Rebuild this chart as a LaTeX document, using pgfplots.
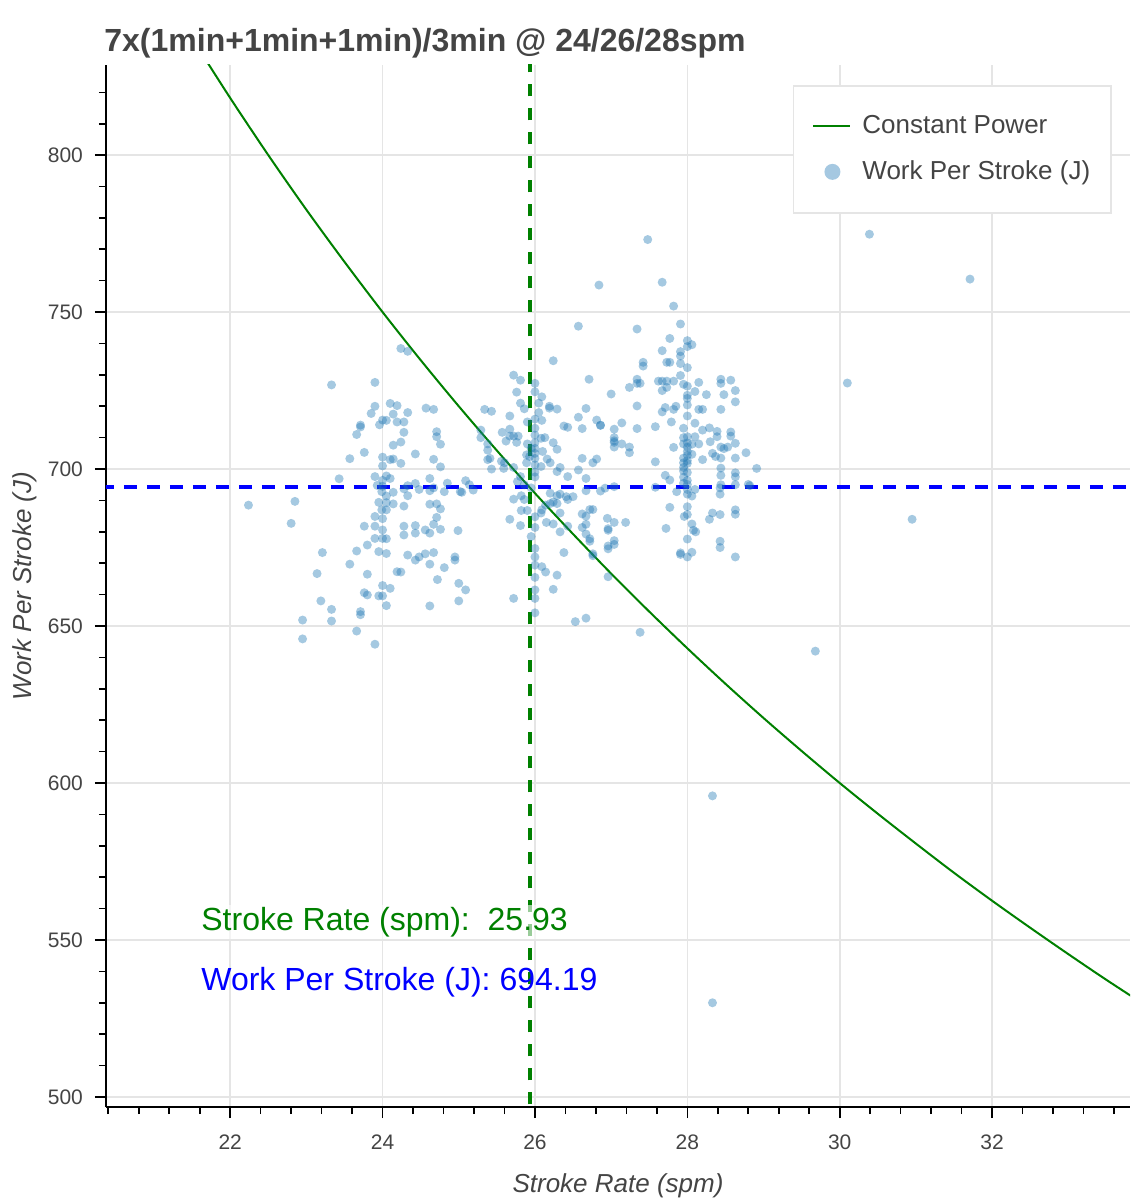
\documentclass[border=0pt]{standalone}
\usepackage{fontspec}
\setmainfont{Liberation Sans}
\usepackage{pgfplots}
\pgfplotsset{compat=1.18}
\usepackage{pgfplotstable}
\definecolor{tickgray}{HTML}{444444}
\definecolor{gridgray}{HTML}{E5E5E5}
\definecolor{ptblue}{HTML}{1F77B4}
\definecolor{cpgreen}{RGB}{0,128,0}
\definecolor{wblue}{RGB}{0,0,255}

\pgfplotstableread{
x y
22.24 688.5
22.85 689.7
22.80 682.7
22.95 651.9
22.95 645.9
23.14 666.7
23.21 673.4
23.19 658.0
23.33 655.3
23.33 651.6
23.33 726.8
23.43 696.9
23.57 703.3
23.57 669.7
23.66 711.0
23.66 673.9
23.66 648.4
23.71 714.0
23.71 713.4
23.71 654.6
23.71 653.6
23.76 705.3
23.76 681.8
23.76 660.6
23.80 675.8
23.80 666.5
23.80 659.9
23.85 717.7
23.90 727.6
23.90 720.0
23.90 697.6
23.90 684.9
23.90 681.8
23.90 677.9
23.90 644.2
23.93 694.8
23.95 689.4
23.95 673.7
23.95 659.6
23.96 714.1
23.99 692.8
23.99 687.0
24.00 715.6
24.00 703.8
24.00 701.0
24.00 696.4
24.00 694.5
24.00 684.2
24.00 680.6
24.00 677.9
24.00 662.9
24.00 659.6
24.05 715.5
24.05 697.8
24.05 691.4
24.05 689.3
24.05 687.0
24.05 677.8
24.05 673.1
24.05 656.5
24.10 720.9
24.10 703.0
24.10 697.0
24.10 662.0
24.14 717.5
24.14 707.6
24.14 703.2
24.14 692.6
24.14 688.9
24.19 720.2
24.19 715.0
24.19 667.3
24.24 738.4
24.24 708.6
24.24 701.8
24.24 667.2
24.28 715.0
24.28 711.7
24.28 693.7
24.28 688.2
24.28 681.8
24.28 679.0
24.33 737.5
24.33 718.0
24.33 694.7
24.33 691.5
24.33 672.6
24.43 704.8
24.43 695.4
24.43 682.0
24.43 679.6
24.43 671.0
24.48 693.5
24.48 672.0
24.56 680.6
24.56 673.0
24.57 719.4
24.62 697.0
24.62 693.1
24.62 688.8
24.62 679.6
24.62 669.7
24.62 656.4
24.67 719.0
24.67 703.1
24.67 694.0
24.67 682.4
24.67 673.4
24.71 711.9
24.71 710.3
24.71 688.9
24.71 684.6
24.72 664.8
24.76 707.9
24.76 700.7
24.76 687.3
24.76 680.8
24.81 692.8
24.81 668.6
24.85 695.5
24.95 672.0
24.95 671.0
24.99 680.4
25.00 663.6
25.00 658.0
25.02 692.8
25.04 692.6
25.09 696.3
25.09 661.5
25.14 695.0
25.19 693.3
25.29 712.4
25.29 710.0
25.34 719.0
25.38 708.0
25.38 706.0
25.38 703.0
25.41 703.4
25.43 718.4
25.43 700.0
25.56 702.5
25.57 711.7
25.59 700.2
25.60 702.0
25.62 708.9
25.67 716.9
25.67 712.7
25.67 710.5
25.67 684.0
25.72 729.9
25.72 710.5
25.72 700.5
25.72 690.4
25.72 658.8
25.76 724.5
25.76 708.5
25.77 696.0
25.78 710.5
25.81 728.3
25.81 721.0
25.81 697.6
25.81 682.0
25.82 691.5
25.82 686.8
25.86 719.2
25.86 695.0
25.86 690.3
25.89 704.5
25.89 702.0
25.90 715.0
25.90 708.0
25.90 686.8
25.93 704.0
25.95 706.5
25.95 694.0
25.95 678.5
26.00 727.3
26.00 724.6
26.00 715.9
26.00 713.0
26.00 710.8
26.00 708.4
26.00 706.6
26.00 705.0
26.00 703.4
26.00 701.3
26.00 699.0
26.00 697.5
26.00 684.8
26.00 681.4
26.00 674.7
26.00 672.0
26.00 669.4
26.00 665.5
26.00 661.5
26.00 658.8
26.00 654.2
26.05 721.0
26.05 718.0
26.08 709.8
26.08 700.8
26.08 686.0
26.09 723.0
26.09 715.5
26.09 687.0
26.09 668.9
26.10 705.6
26.13 710.0
26.14 688.5
26.14 667.2
26.15 683.0
26.16 703.2
26.19 720.0
26.19 719.4
26.20 702.0
26.20 692.3
26.20 689.0
26.24 734.5
26.24 708.4
26.24 689.5
26.24 682.5
26.24 661.7
26.29 719.1
26.29 706.3
26.29 699.2
26.29 691.5
26.29 689.0
26.29 666.2
26.33 700.5
26.33 692.0
26.33 686.0
26.33 680.0
26.38 713.7
26.38 673.4
26.41 691.2
26.43 713.3
26.43 697.6
26.43 690.3
26.43 681.8
26.50 691.2
26.53 651.4
26.57 745.5
26.57 716.5
26.57 699.7
26.62 712.9
26.62 703.4
26.62 685.7
26.62 681.4
26.67 719.3
26.67 697.0
26.67 693.1
26.67 685.0
26.67 682.4
26.67 679.3
26.67 652.5
26.71 728.6
26.72 687.1
26.72 677.8
26.72 677.0
26.76 702.0
26.76 687.1
26.76 673.0
26.76 672.4
26.81 715.6
26.81 703.2
26.84 758.6
26.86 714.0
26.86 713.9
26.86 693.0
26.92 693.9
26.95 684.3
26.96 681.0
26.96 680.5
26.96 675.5
26.96 674.6
26.96 665.7
27.00 723.9
27.04 712.7
27.04 710.0
27.04 709.0
27.04 708.5
27.04 707.0
27.04 694.4
27.04 683.0
27.04 677.2
27.04 676.0
27.14 714.7
27.14 708.0
27.19 683.0
27.24 726.0
27.24 707.0
27.24 705.2
27.34 744.6
27.34 728.6
27.34 727.3
27.34 720.1
27.34 712.9
27.38 727.3
27.38 648.0
27.42 734.0
27.42 732.8
27.48 773.1
27.58 713.5
27.58 702.3
27.58 694.2
27.62 728.0
27.67 759.5
27.67 737.7
27.67 728.0
27.67 725.0
27.67 718.2
27.71 719.6
27.71 698.0
27.72 681.1
27.73 734.0
27.73 726.0
27.73 728.0
27.77 741.6
27.77 734.0
27.77 696.5
27.77 687.8
27.79 715.0
27.82 751.9
27.82 728.0
27.82 719.0
27.82 706.9
27.85 720.0
27.86 692.8
27.91 746.2
27.91 737.4
27.91 736.0
27.91 733.6
27.91 729.8
27.91 673.3
27.91 672.8
27.95 727.0
27.95 713.0
27.95 710.0
27.95 708.0
27.95 703.5
27.95 702.0
27.95 700.5
27.95 699.4
27.95 697.4
27.95 695.5
27.96 684.9
28.00 740.9
28.00 739.0
28.00 732.3
28.00 726.4
28.00 723.5
28.00 722.5
28.00 720.4
28.00 716.9
28.00 710.3
28.00 708.3
28.00 707.0
28.00 705.6
28.00 704.4
28.00 702.7
28.00 701.8
28.00 698.9
28.00 696.4
28.00 695.1
28.00 693.5
28.00 692.0
28.00 688.0
28.00 685.5
28.00 677.7
28.00 672.0
28.06 739.6
28.06 707.9
28.06 704.7
28.06 691.4
28.06 682.5
28.06 673.5
28.08 680.5
28.10 724.7
28.10 714.6
28.10 710.3
28.10 693.5
28.11 680.0
28.15 727.6
28.15 719.0
28.15 708.0
28.20 712.4
28.20 719.0
28.20 703.0
28.25 723.7
28.29 713.1
28.29 684.0
28.30 708.7
28.33 595.9
28.33 530.0
28.33 686.0
28.33 705.0
28.37 704.0
28.39 712.0
28.39 710.3
28.43 694.0
28.43 692.0
28.43 685.5
28.43 677.0
28.43 675.0
28.44 728.6
28.44 727.3
28.44 719.0
28.44 707.0
28.44 703.5
28.44 700.3
28.44 698.0
28.44 695.0
28.48 723.7
28.48 706.5
28.53 707.0
28.57 728.3
28.57 711.8
28.57 710.5
28.63 725.0
28.63 721.4
28.63 708.2
28.63 703.5
28.63 698.8
28.63 697.5
28.63 695.0
28.63 687.0
28.63 685.6
28.63 672.0
28.77 705.2
28.80 695.1
28.82 694.7
28.91 700.2
29.68 642.0
30.10 727.4
30.39 774.8
30.95 684.0
31.71 760.5
}\strokes

\pgfplotstableread{
x y
21.5 837.2
22.0 818.2
22.5 800.0
23.0 782.6
23.5 766.0
24.0 750.0
24.5 734.7
25.0 720.0
25.5 705.9
26.0 692.3
26.5 679.3
27.0 666.7
27.5 654.6
28.0 642.9
28.5 631.6
29.0 620.7
29.5 610.2
30.0 600.0
30.5 590.2
31.0 580.7
31.5 571.4
32.0 562.5
32.5 553.9
33.0 545.5
33.5 537.3
34.0 529.4
}\power

\begin{document}
\begin{tikzpicture}
\begin{axis}[
  name=ax,
  scale only axis, width=512pt, height=521pt,
  xmin=20.37, xmax=33.81, ymin=496.8, ymax=828.7,
  axis lines*=left,
  axis line style={line width=0.8pt, black, -},
  xtick={22,24,...,32}, ytick={500,550,...,800},
  minor xtick={20.4,20.8,...,33.7},
  minor ytick={500,510,...,820},
  tick align=outside, major tick length=5.5pt, minor tick length=3.5pt,
  every tick/.style={black, line width=0.8pt},
  grid=major, major grid style={gridgray, line width=0.8pt},
  minor grid style={draw=none},
  ticklabel style={font=\fontsize{10.5}{12}\selectfont, text=tickgray},
  xticklabel style={yshift=-5pt},
  yticklabel style={xshift=-2.5pt},
  /pgf/number format/assume math mode=true,
  legend style={at={(rel axis cs:1,1)}, anchor=north east, xshift=-9pt, yshift=-10pt,
    draw=gridgray, line width=0.8pt, fill=white, inner xsep=8.5pt, inner ysep=13pt,
    row sep=8pt, font=\fontsize{13}{15}\selectfont, text=tickgray},
  legend cell align=left,
]
\addlegendimage{legend image code/.code={\path[draw=none] (0pt,0pt) -- (24pt,0pt); \draw[cpgreen, line width=1pt] (1.5pt,0pt) -- (20pt,0pt);}}
\addlegendentry{Constant Power}
\addlegendimage{legend image code/.code={\path[draw=none] (0pt,0pt) -- (24pt,0pt); \path[draw=none, fill=ptblue, fill opacity=0.4] (11pt,0pt) circle (4pt);}}
\addlegendentry{Work Per Stroke (J)}

\addplot[only marks, mark=*, mark size=2.25pt, color=ptblue,
  mark options={solid, line width=0pt, draw opacity=0, fill=ptblue, fill opacity=0.4}, forget plot] table[x=x,y=y] {\strokes};
\addplot[cpgreen, line width=1pt, smooth, forget plot] table[x=x,y=y] {\power};
\addplot[wblue, line width=2pt, dash pattern=on 6.5pt off 5pt, forget plot] coordinates {(20.0,694.19) (34.0,694.19)};
\addplot[cpgreen, line width=2pt, dash pattern=on 6pt off 6pt, forget plot] coordinates {(25.93,490) (25.93,840)};

\node[anchor=base west, inner sep=1pt, xshift=-1.5pt, fill=white, fill opacity=0.6, text opacity=1,
  text=cpgreen, font=\fontsize{16}{19}\selectfont] at (axis cs:21.63,553.0) {Stroke Rate (spm):\ \ 25.93};
\node[anchor=base west, inner sep=1pt, xshift=-1.5pt,
  text=wblue, font=\fontsize{16}{19}\selectfont] at (axis cs:21.63,533.8) {Work Per Stroke (J): 694.19};
\end{axis}
\node[anchor=base west, inner sep=0pt, text=tickgray, font=\fontsize{16}{19}\selectfont\bfseries]
  at ([xshift=-1pt,yshift=6.5pt]ax.north west) {7x(1min+1min+1min)/3min @ 24/26/28spm};
\node[anchor=base, inner sep=0pt, text=tickgray, font=\fontsize{13}{15}\selectfont\itshape]
  at ([yshift=-43pt]ax.south) {Stroke Rate (spm)};
\node[anchor=base, rotate=90, inner sep=0pt, text=tickgray, font=\fontsize{13}{15}\selectfont\itshape]
  at ([xshift=-37pt]ax.west) {Work Per Stroke (J)};
\path ([xshift=-53pt,yshift=32.5pt]ax.north west) rectangle ([xshift=5pt,yshift=-46.5pt]ax.south east);
\end{tikzpicture}
\end{document}
